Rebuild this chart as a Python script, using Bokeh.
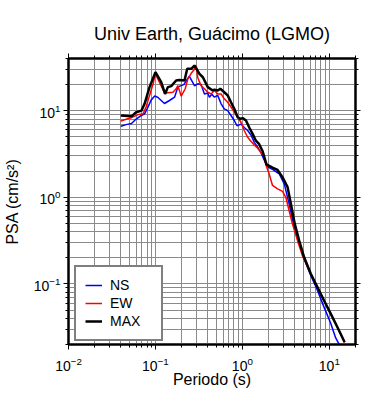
from bokeh.plotting import figure
from bokeh.models import FixedTicker, LogTickFormatter, LogAxis, Legend, LegendItem
from bokeh.embed import file_html
from bokeh.resources import INLINE

# ---- data ----
period_ns = [0.04, 0.046, 0.053, 0.06, 0.069, 0.075, 0.082, 0.0895, 0.098, 0.107,
             0.127, 0.145, 0.166, 0.181, 0.212, 0.245, 0.281, 0.307, 0.335, 0.366,
             0.40, 0.417, 0.445, 0.477, 0.52, 0.569, 0.619, 0.677, 0.74, 0.807,
             0.867, 0.964, 1.05, 1.15, 1.26, 1.37, 1.50, 1.63, 1.78, 1.95,
             2.22, 2.65, 3.03, 3.45, 3.94, 4.50, 5.13, 6.12, 7.31, 8.69,
             10.4, 11.8, 13.2]
psa_ns = [6.6, 6.9, 7.1, 8.0, 8.8, 9.2, 11.0, 13.3, 14.8, 14.2,
          12.1, 13.1, 14.3, 18.8, 20.0, 25.0, 19.4, 20.4, 20.0, 15.6,
          16.0, 14.3, 15.5, 14.3, 15.0, 12.0, 10.5, 10.0, 8.8, 7.7,
          6.7, 7.0, 6.4, 5.9, 5.2, 4.3, 3.8, 3.3, 2.7, 2.25,
          2.1, 1.87, 1.43, 0.84, 0.45, 0.29, 0.195, 0.125, 0.084, 0.054,
          0.035, 0.024, 0.0194]

period_ew = [0.04, 0.048, 0.053, 0.063, 0.072, 0.078, 0.0855, 0.0935, 0.100, 0.111,
             0.127, 0.139, 0.159, 0.173, 0.181, 0.198, 0.220, 0.236, 0.258, 0.281,
             0.295, 0.307, 0.335, 0.366, 0.40, 0.437, 0.477, 0.521, 0.569, 0.619,
             0.677, 0.74, 0.807, 0.883, 0.964, 1.05, 1.15, 1.26, 1.37, 1.50,
             1.63, 1.75, 1.87, 2.03, 2.22, 2.54, 2.90, 3.16, 3.45, 3.77,
             4.31, 4.92, 6.12, 7.31, 8.69, 10.4, 12.4, 15.0]
psa_ew = [7.6, 8.05, 8.3, 9.0, 9.2, 11.0, 15.0, 20.0, 26.6, 21.3,
          16.1, 16.1, 16.3, 17.9, 19.4, 14.7, 17.9, 23.3, 27.0, 30.0,
          33.0, 24.0, 19.4, 17.9, 16.3, 15.6, 17.1, 15.6, 15.6, 13.7,
          12.5, 11.0, 9.6, 8.4, 7.35, 5.9, 4.93, 4.4, 4.03, 3.68,
          3.31, 3.03, 2.35, 1.87, 1.37, 1.25, 1.17, 1.0, 0.70, 0.49,
          0.316, 0.21, 0.131, 0.0915, 0.0643, 0.0451, 0.0316, 0.0212]

period_max = [0.04, 0.053, 0.06, 0.069, 0.075, 0.0855, 0.1, 0.1165, 0.129, 0.139,
              0.152, 0.173, 0.189, 0.216, 0.232, 0.258, 0.281, 0.321, 0.351, 0.40,
              0.456, 0.477, 0.521, 0.558, 0.619, 0.677, 0.74, 0.807, 0.883, 0.946,
              1.007, 1.10, 1.20, 1.31, 1.43, 1.56, 1.71, 1.89, 2.22, 2.54,
              2.90, 3.31, 3.61, 4.01, 4.50, 5.13, 6.12, 7.31, 8.69, 10.4,
              12.4, 15.0]
psa_max = [8.8, 8.6, 9.6, 10.0, 12.0, 18.7, 27.8, 21.3, 15.6, 18.7,
           19.2, 22.3, 22.6, 22.3, 30.4, 30.4, 33.2, 26.6, 24.3, 18.7,
           17.1, 17.5, 17.1, 17.9, 16.3, 15.0, 12.5, 10.5, 8.4, 8.05,
           8.2, 7.7, 6.4, 5.4, 4.5, 4.1, 3.4, 2.4, 2.2, 2.07,
           1.70, 1.31, 0.84, 0.49, 0.316, 0.203, 0.131, 0.0915, 0.0643, 0.0451,
           0.0316, 0.0212]

series_labels = ["NS", "EW", "MAX"]
series_colors = ["#0000ff", "#ff0000", "#000000"]

x_major = [0.01, 0.1, 1, 10]
y_major = [0.1, 1, 10]
x_minor = [m * 10.0 ** k for k in range(-2, 2) for m in range(2, 10)]
y_minor = [m * 10.0 ** k for k in range(-2, 2) for m in range(2, 10)]

FONT = "Liberation Sans"

p = figure(frame_width=287, frame_height=286, x_axis_type="log", y_axis_type="log",
           x_range=(0.01, 20), y_range=(0.02, 40),
           output_backend="svg", toolbar_location=None,
           min_border_left=59, min_border_right=28,
           min_border_top=58, min_border_bottom=40)

p.title.text = "Univ Earth, Guácimo (LGMO)"
p.title.align = "center"
p.title.text_font = FONT
p.title.text_font_size = "18px"
p.title.text_font_style = "normal"
p.title.text_color = "black"
p.title.standoff = 19

p.outline_line_color = "black"
p.outline_line_width = 2
p.background_fill_color = "white"


def style_axis(ax, ticks, minor, labels=True):
    ax.ticker = FixedTicker(ticks=ticks, minor_ticks=minor)
    ax.formatter = LogTickFormatter()
    ax.axis_line_color = "black"
    ax.axis_line_width = 2
    ax.major_tick_line_color = "black"
    ax.minor_tick_line_color = "black"
    ax.major_tick_line_width = 1
    ax.minor_tick_line_width = 1
    ax.major_tick_in = 0
    ax.major_tick_out = 5
    ax.minor_tick_in = 0
    ax.minor_tick_out = 3
    ax.major_label_text_font = FONT
    ax.major_label_text_font_size = "14px" if labels else "1px"
    ax.major_label_text_color = "black" if labels else None
    ax.major_label_standoff = 3 if labels else 0
    ax.axis_label_text_font = FONT
    ax.axis_label_text_font_size = "16px"
    ax.axis_label_text_font_style = "normal"
    ax.axis_label_text_color = "black"


style_axis(p.xaxis[0], x_major, x_minor)
style_axis(p.yaxis[0], y_major, y_minor)
p.xaxis.axis_label = "Periodo (s)"
p.yaxis.axis_label = "PSA (cm/s²)"
p.xaxis.major_label_standoff = 7
p.xaxis.axis_label_standoff = -3
p.yaxis.axis_label_standoff = 10

top = LogAxis()
style_axis(top, x_major, x_minor, labels=False)
p.add_layout(top, "above")
right = LogAxis()
style_axis(right, y_major, y_minor, labels=False)
p.add_layout(right, "right")

for g in (p.xgrid[0], p.ygrid[0]):
    g.grid_line_color = "#8a8a8a"
    g.grid_line_width = 1
    g.minor_grid_line_color = "#8a8a8a"
    g.minor_grid_line_width = 1

r_ns = p.line(period_ns, psa_ns, line_color=series_colors[0], line_width=1.5)
r_ew = p.line(period_ew, psa_ew, line_color=series_colors[1], line_width=1.5)
r_max = p.line(period_max, psa_max, line_color=series_colors[2], line_width=2.5)

legend = Legend(items=[LegendItem(label=series_labels[0], renderers=[r_ns]),
                       LegendItem(label=series_labels[1], renderers=[r_ew]),
                       LegendItem(label=series_labels[2], renderers=[r_max])],
                location=(6, 3))
legend.border_line_color = "black"
legend.border_line_width = 2
legend.background_fill_color = "white"
legend.background_fill_alpha = 1
legend.padding = 9
legend.spacing = 0
legend.margin = 0
legend.glyph_width = 17
legend.glyph_height = 18
legend.label_height = 18
legend.label_width = 42
legend.label_standoff = 8
legend.label_text_font = FONT
legend.label_text_font_size = "14px"
legend.label_text_color = "black"
p.add_layout(legend)

open("out.html", "w").write(file_html(p, INLINE))
